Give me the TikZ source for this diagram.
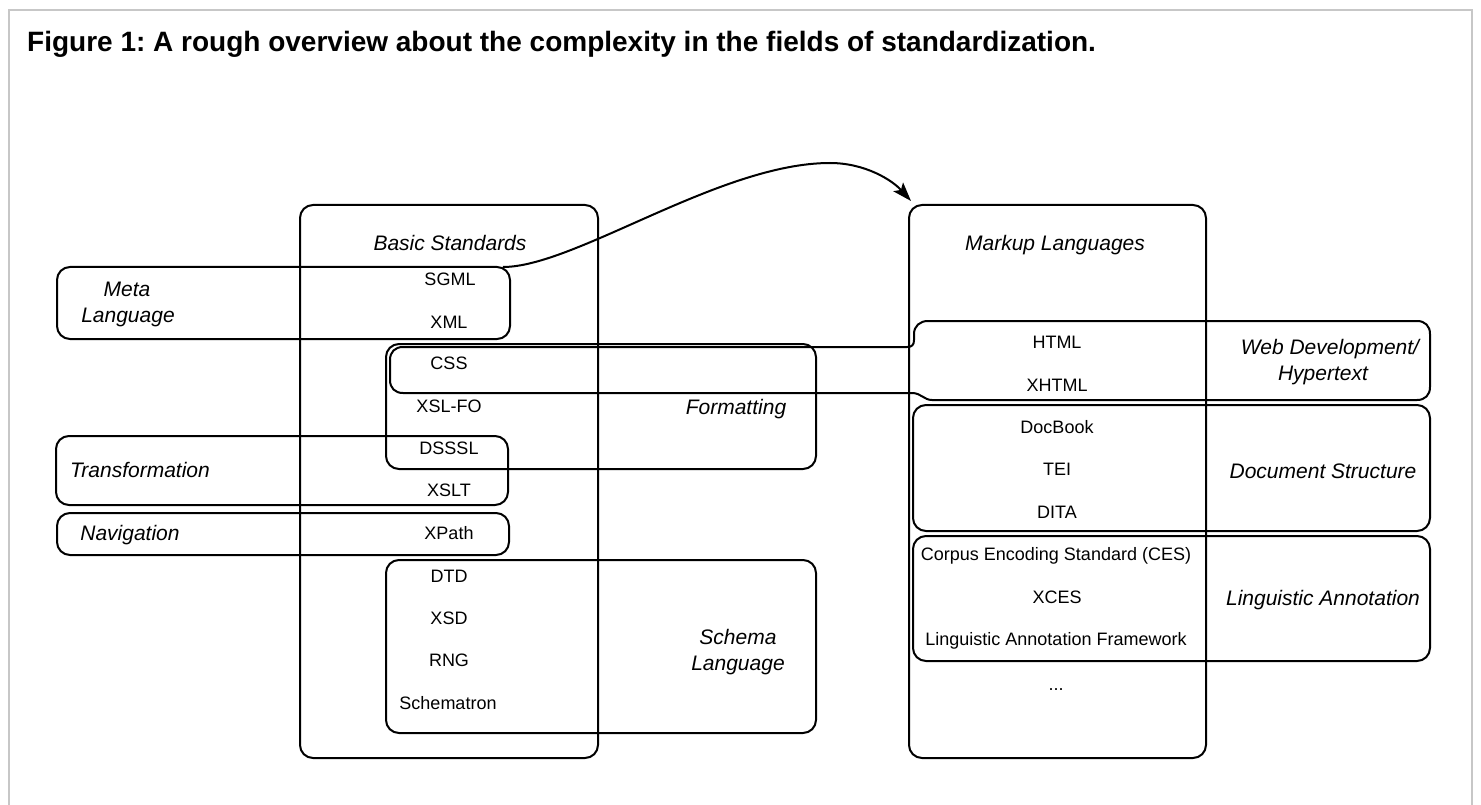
\documentclass[tikz,border=0pt]{standalone}
\usepackage{fontspec}
\setmainfont{Liberation Sans}
\usetikzlibrary{fit,arrows.meta}
\frenchspacing
\tikzset{
  box/.style={draw, rounded corners=13pt, line width=2pt, inner sep=0pt},
  item/.style={font=\fontsize{18}{20}\selectfont, anchor=base, inner sep=0pt},
  lab/.style={font=\fontsize{21}{24}\selectfont\itshape, anchor=base, inner sep=0pt},
  frameline/.style={draw=black!22, line width=2pt}
}
\begin{document}
\begin{tikzpicture}[x=1pt,y=-1pt]
\useasboundingbox (0,0) rectangle (1481,805);
% outer frame
\draw[frameline] (9,805) -- (9,10) -- (1472,10) -- (1472,805);
% title
\node[anchor=base west, inner sep=0pt, font=\fontsize{28}{32}\selectfont\bfseries] (title) at (27,52)
  {Figure 1: A rough overview about the complexity in the fields of standardization.};
% main boxes
\node[box, fit={(300,205) (598,758)}] (basic) {};
\node[box, fit={(909,205) (1206,758)}] (markup) {};
\node[box, fit={(57,267) (510,339)}] (meta) {};
\node[box, fit={(386,344) (816,469)}] (formatting) {};
\node[box, fit={(56,436) (508,505)}] (transformation) {};
\node[box, fit={(57,513) (509,555)}] (navigation) {};
\node[box, fit={(386,560) (816,733)}] (schema) {};
\node[box, fit={(913,405) (1430,531)}] (docstruct) {};
\node[box, fit={(913,536) (1430,661)}] (linguistic) {};
% web development outline with band reaching CSS
\draw[line width=2pt, line join=round]
  (403,347) -- (907,347) .. controls (912,347) and (914,345) .. (914,340)
  -- (914,334) .. controls (914,326) and (920,321) .. (928,321)
  -- (1417,321) .. controls (1425,321) and (1430,326) .. (1430,334)
  -- (1430,387) .. controls (1430,395) and (1425,400) .. (1417,400)
  -- (932,400) .. controls (924,400) and (921,393) .. (912,393)
  -- (403,393) .. controls (395,393) and (390,388) .. (390,380)
  -- (390,360) .. controls (390,352) and (395,347) .. (403,347) -- cycle;
% arrow from meta language to markup languages
\coordinate (metaTR) at (503,267);
\coordinate (arrowEnd) at (911,201);
\draw[line width=2pt, -{Stealth[length=19pt,width=13pt,inset=4pt]}]
  (metaTR) .. controls (575,267) and (720,163) .. (830,163)
  .. controls (865,163) and (892,180) .. (arrowEnd);
% labels
\node[lab] (lbasic) at (450,251) {Basic Standards};
\node[lab] (lmarkup) at (1055,251) {Markup Languages};
\node[lab] (lmeta1) at (127,297) {Meta};
\node[lab] (lmeta2) at (128,322) {Language};
\node[lab] (lformat) at (736,414) {Formatting};
\node[lab] (ltrans) at (140,477) {Transformation};
\node[lab] (lnav) at (130,540) {Navigation};
\node[lab] (lschema1) at (738,644) {Schema};
\node[lab] (lschema2) at (738,670) {Language};
\node[lab] (lweb1) at (1330,354) {Web Development/};
\node[lab] (lweb2) at (1323,380) {Hypertext};
\node[lab] (ldoc) at (1323,478) {Document Structure};
\node[lab] (lling) at (1323,605) {Linguistic Annotation};
% items left
\node[item] (sgml) at (450,286) {SGML};
\node[item] (xml) at (449,328) {XML};
\node[item] (css) at (449,369) {CSS};
\node[item] (xslfo) at (449,412) {XSL-FO};
\node[item] (dsssl) at (449,454) {DSSSL};
\node[item] (xslt) at (449,496) {XSLT};
\node[item] (xpath) at (449,539) {XPath};
\node[item] (dtd) at (449,582) {DTD};
\node[item] (xsd) at (449,624) {XSD};
\node[item] (rng) at (449,666) {RNG};
\node[item] (schematron) at (448,709) {Schematron};
% items right
\node[item] (html) at (1057,348) {HTML};
\node[item] (xhtml) at (1057,391) {XHTML};
\node[item] (docbook) at (1057,433) {DocBook};
\node[item] (tei) at (1057,475) {TEI};
\node[item] (dita) at (1057,518) {DITA};
\node[item] (ces) at (1056,560) {Corpus Encoding Standard (CES)};
\node[item] (xces) at (1057,603) {XCES};
\node[item] (laf) at (1056,645) {Linguistic Annotation Framework};
\node[item] (dots) at (1056,690) {...};
\end{tikzpicture}
\end{document}
